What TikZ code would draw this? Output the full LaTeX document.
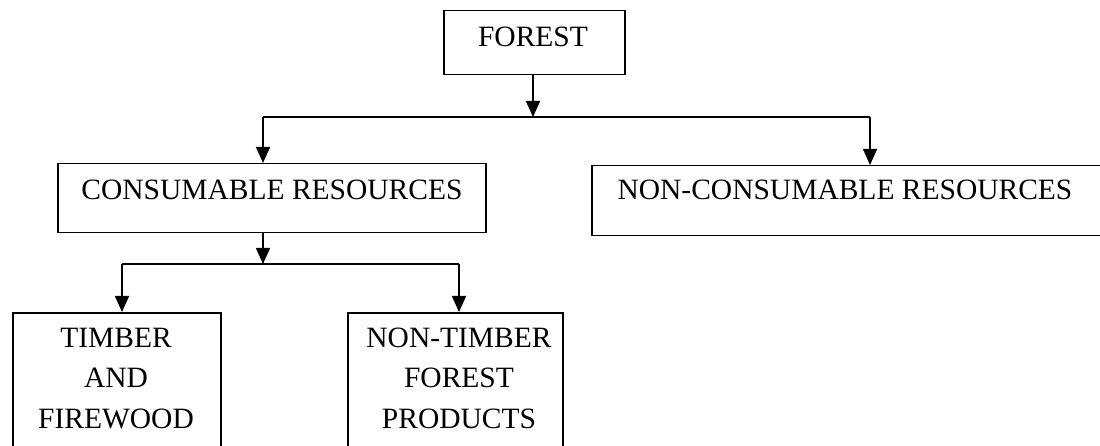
\documentclass[tikz,border=0pt]{standalone}
\usepackage{fontspec}
\setmainfont{Liberation Serif}
\usetikzlibrary{arrows.meta}
\begin{document}
\begin{tikzpicture}[x=1pt,y=-1pt,
  boxshape/.style={draw, line width=1.5pt, inner sep=0pt, anchor=north west},
  lbl/.style={inner sep=0pt, anchor=base, align=center, font=\fontsize{29.5}{40.6}\selectfont},
  conn/.style={line width=1.5pt},
  arr/.style={line width=1.5pt, -{Triangle[length=16pt,width=14pt]}}]
\clip (0,0) rectangle (1100,446);
% boxes
\node[boxshape, minimum width=181pt, minimum height=64pt] (forest) at (443,10) {};
\node[boxshape, minimum width=428pt, minimum height=69pt] (cons) at (57,163) {};
\node[boxshape, minimum width=515pt, minimum height=70pt] (noncons) at (591,165) {};
\node[boxshape, minimum width=208pt, minimum height=160pt] (timber) at (12,312) {};
\node[boxshape, minimum width=215pt, minimum height=160pt] (ntfp) at (347,312) {};
% texts (multi-line nodes: base is the last line)
\node[lbl] (tforest) at (533,47) {FOREST};
\node[lbl] (tcons) at (272,200) {CONSUMABLE RESOURCES};
\node[lbl] (tnoncons) at (845,200) {NON-CONSUMABLE RESOURCES};
\node[lbl] (ttimber) at (116,428.2) {TIMBER\\AND\\FIREWOOD};
\node[lbl] (tntfp) at (459,428.2) {NON-TIMBER\\FOREST\\PRODUCTS};
% connectors
\coordinate (j1) at (533,117);
\coordinate (j1l) at (263,117);
\coordinate (j1r) at (870,117);
\coordinate (j2) at (263,264);
\coordinate (j2l) at (122,264);
\coordinate (j2r) at (459,264);
\draw[arr] (forest.south -| j1) -- (j1);
\draw[conn] (j1l) -- (j1r);
\draw[arr] (j1l) -- (cons.north -| j1l);
\draw[arr] (j1r) -- (noncons.north -| j1r);
\draw[arr] (cons.south -| j2) -- (j2);
\draw[conn] (j2l) -- (j2r);
\draw[arr] (j2l) -- (timber.north -| j2l);
\draw[arr] (j2r) -- (ntfp.north -| j2r);
\end{tikzpicture}
\end{document}
